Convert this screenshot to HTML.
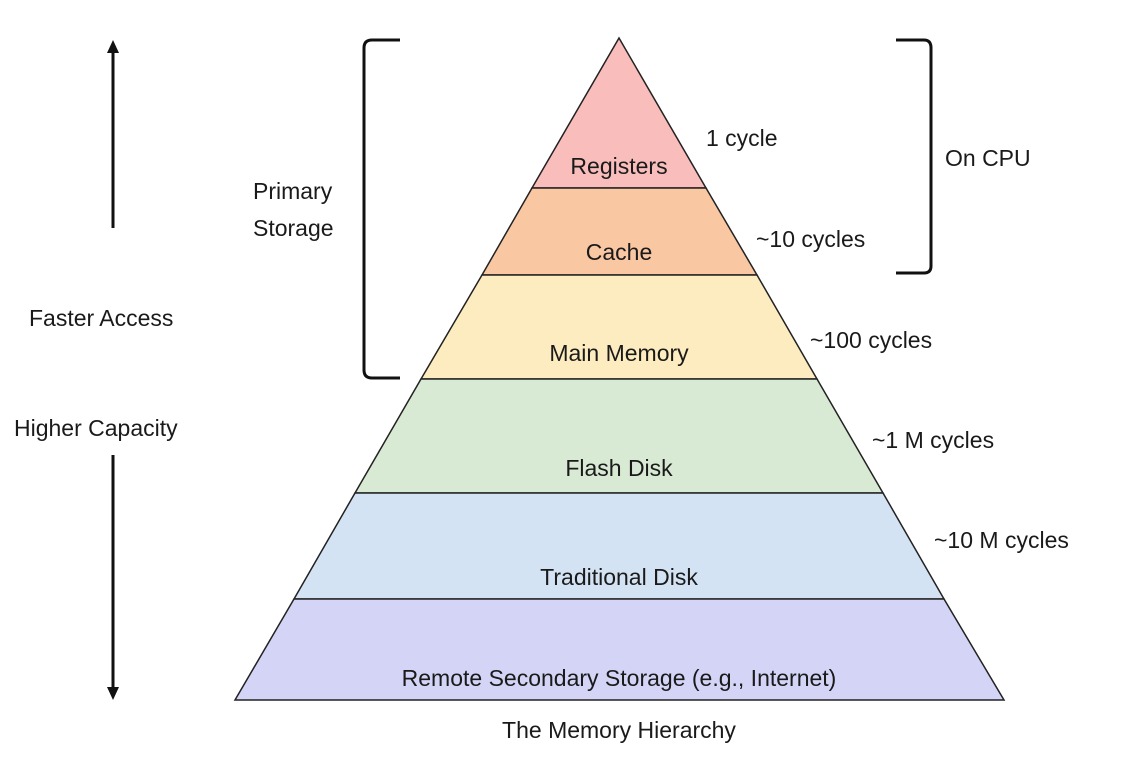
<!DOCTYPE html>
<html><head><meta charset="utf-8"><style>
html,body{margin:0;padding:0;background:#fff;}
svg{display:block;}
text{font-family:"Liberation Sans",sans-serif;font-size:23px;fill:#1a1a1a;}
</style></head><body>
<svg width="1127" height="766" viewBox="0 0 1127 766" xmlns="http://www.w3.org/2000/svg">
<g stroke="#222" stroke-width="1.5">
<polygon points="619,38 532,188 706,188" fill="#f9bdbc"/>
<polygon points="532,188 706,188 757,275 482,275" fill="#f9c7a2"/>
<polygon points="482,275 757,275 817,379 421,379" fill="#fdecbf"/>
<polygon points="421,379 817,379 883,493 355,493" fill="#d9ead4"/>
<polygon points="355,493 883,493 944,599 294,599" fill="#d4e3f4"/>
<polygon points="294,599 944,599 1004,700 235,700" fill="#d4d5f6"/>
</g>
<g text-anchor="middle">
<text x="619" y="174">Registers</text>
<text x="619" y="260">Cache</text>
<text x="619" y="361">Main Memory</text>
<text x="619" y="476">Flash Disk</text>
<text x="619" y="585">Traditional Disk</text>
<text x="619" y="686">Remote Secondary Storage (e.g., Internet)</text>
<text x="619" y="738">The Memory Hierarchy</text>
</g>
<text x="706" y="146">1 cycle</text>
<text x="756" y="247">~10 cycles</text>
<text x="810" y="348">~100 cycles</text>
<text x="872" y="448">~1 M cycles</text>
<text x="934" y="548">~10 M cycles</text>
<text x="945" y="166">On CPU</text>
<text x="253" y="199">Primary</text>
<text x="253" y="236">Storage</text>
<text x="29" y="326">Faster Access</text>
<text x="14" y="436">Higher Capacity</text>
<g fill="none" stroke="#111" stroke-width="3">
<path d="M400,40 H372 Q364,40 364,48 V370 Q364,378 372,378 H400"/>
<path d="M896,40 H924 Q931,40 931,48 V266 Q931,273 924,273 H896"/>
<line x1="113" y1="50" x2="113" y2="228"/>
<line x1="113" y1="455" x2="113" y2="690"/>
</g>
<polygon points="113,40 107,53 119,53" fill="#111"/>
<polygon points="113,700 107,687 119,687" fill="#111"/>
</svg>
</body></html>
